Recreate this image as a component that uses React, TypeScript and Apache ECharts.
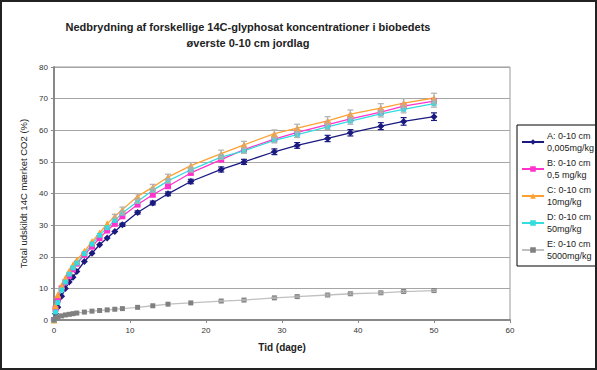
import React, { useEffect, useRef } from "react";
import * as echarts from "echarts";

const days = [0, 0.2, 0.5, 1, 1.5, 2, 2.5, 3, 4, 5, 6, 7, 8, 9, 11, 13, 15, 18, 22, 25, 29, 32, 36, 39, 43, 46, 50];
const seriesA = [0, 2, 4, 7.5, 10, 12, 13.5, 15.3, 18.5, 21.1, 23.8, 25.9, 28.0, 30.1, 34.0, 37.0, 39.9, 43.8, 47.6, 50.0, 53.2, 55.2, 57.4, 59.2, 61.3, 62.8, 64.3];
const seriesB = [0, 3.5, 6.5, 10, 12, 14, 16, 17.8, 20.6, 23.2, 25.9, 28.3, 30.4, 32.8, 36.5, 39.6, 42.3, 46.5, 50.7, 53.9, 57.2, 59.3, 61.8, 63.6, 65.7, 67.6, 69.2];
const seriesC = [0, 4.5, 8, 10.8, 13.3, 15.5, 17.5, 19.0, 21.7, 24.8, 27.5, 30.4, 32.8, 34.9, 39.1, 42.0, 45.2, 48.8, 52.6, 55.4, 58.9, 60.7, 63.0, 65.1, 67.0, 68.6, 70.2];
const seriesD = [0, 2.5, 5.5, 9.5, 12, 14.5, 16.5, 18, 21, 24, 26.8, 29.2, 31.5, 33.8, 37.5, 41, 44, 47.5, 51.5, 53.5, 56.8, 58.6, 61.1, 62.9, 65.2, 66.6, 68.4];
const seriesE = [0, 0.7, 1.0, 1.3, 1.6, 1.8, 2.0, 2.2, 2.5, 2.8, 3.0, 3.2, 3.4, 3.6, 4.0, 4.5, 5.0, 5.4, 6.0, 6.3, 7.0, 7.4, 7.9, 8.3, 8.6, 9.0, 9.3];
const errA = [0, 0, 0, 0, 0, 0, 0, 0, 0, 0, 0, 0, 0, 0.5, 0.5, 0.6, 0.6, 0.7, 0.8, 0.8, 0.9, 0.9, 1.0, 1.0, 1.1, 1.2, 1.2];
const errC = [0, 0, 0, 0, 0, 0, 0, 0, 0, 0, 0, 0, 0.6, 0.8, 0.8, 0.9, 0.9, 1.0, 1.1, 1.1, 1.2, 1.2, 1.3, 1.3, 1.4, 1.4, 1.5];
const errD = [0, 0, 0, 0, 0, 0, 0, 0, 0, 0, 0, 0, 0, 0.5, 0.5, 0.6, 0.6, 0.7, 0.7, 0.8, 0.8, 0.9, 0.9, 1.0, 1.0, 1.1, 1.1];
const errE = [0, 0, 0, 0, 0, 0, 0, 0, 0, 0, 0, 0, 0, 0, 0, 0, 0, 0, 0.2, 0.2, 0.2, 0.2, 0.3, 0.3, 0.3, 0.3, 0.3];

const legendNames = ["A: 0-10 cm\n0,005mg/kg", "B: 0-10 cm\n0,5 mg/kg", "C: 0-10 cm\n10mg/kg", "D: 0-10 cm\n50mg/kg", "E: 0-10 cm\n5000mg/kg"];
const xTicks = [0, 10, 20, 30, 40, 50, 60];
const yTicks = [0, 10, 20, 30, 40, 50, 60, 70, 80];

const FONT = "Liberation Sans, Arial, sans-serif";

function pairs(vals: number[]) {
  return days.map((d, i) => [d, vals[i]]);
}

function errData(vals: number[], errs: number[]) {
  const out: number[][] = [];
  days.forEach((d, i) => {
    if (errs[i] > 0) out.push([d, vals[i] - errs[i], vals[i] + errs[i]]);
  });
  return out;
}

function errSeries(vals: number[], errs: number[], color: string, z: number) {
  return {
    type: "custom",
    silent: true,
    z,
    data: errData(vals, errs),
    renderItem: (params: any, api: any) => {
      const x = api.value(0);
      const lo = api.coord([x, api.value(1)]);
      const hi = api.coord([x, api.value(2)]);
      const w = 3;
      const st = { stroke: color, lineWidth: 1.2 };
      return {
        type: "group",
        children: [
          { type: "line", shape: { x1: lo[0], y1: lo[1], x2: hi[0], y2: hi[1] }, style: st },
          { type: "line", shape: { x1: lo[0] - w, y1: lo[1], x2: lo[0] + w, y2: lo[1] }, style: st },
          { type: "line", shape: { x1: hi[0] - w, y1: hi[1], x2: hi[0] + w, y2: hi[1] }, style: st },
        ],
      };
    },
  };
}

export default function App() {
  const ref = useRef<HTMLDivElement>(null);
  useEffect(() => {
    if (!ref.current) return;
    const chart = echarts.init(ref.current, null, { renderer: "svg" });
    const lineSeries = (name: string, vals: number[], lineColor: string, markColor: string, symbol: string, size: number) => ({
      type: "line",
      name,
      data: pairs(vals),
      symbol,
      symbolSize: size,
      lineStyle: { color: lineColor, width: 1.3 },
      itemStyle: { color: markColor },
      z: 3,
    });
    chart.setOption({
      animation: false,
      backgroundColor: "#ffffff",
      title: {
        text: "Nedbrydning af forskellige 14C-glyphosat koncentrationer i biobedets\nøverste 0-10 cm jordlag",
        left: 243,
        top: 14,
        textAlign: "center",
        textStyle: { fontFamily: FONT, fontSize: 11, fontWeight: "bold", color: "#222", lineHeight: 16 },
      },
      legend: {
        orient: "vertical",
        left: 517,
        top: 125,
        itemWidth: 22,
        itemHeight: 7,
        itemGap: 3,
        padding: [5, 4, 4, 4],
        borderColor: "#000",
        borderWidth: 1,
        data: legendNames,
        textStyle: { fontFamily: FONT, fontSize: 9, color: "#222", lineHeight: 12, padding: [0, 0, 0, -2] },
      },
      grid: {
        left: 54,
        top: 67,
        right: 87,
        bottom: 50,
        show: true,
        borderColor: "#999",
        borderWidth: 1,
      },
      xAxis: {
        type: "value",
        min: 0,
        max: 60,
        interval: 10,
        name: "Tid (dage)",
        nameLocation: "middle",
        nameGap: 22,
        nameTextStyle: { fontFamily: FONT, fontSize: 10, fontWeight: "bold", color: "#222" },
        axisLine: { show: true, lineStyle: { color: "#888", width: 2 } },
        axisTick: { show: true, length: 3, lineStyle: { color: "#888" } },
        axisLabel: { fontFamily: FONT, fontSize: 8, color: "#333", margin: 6, formatter: (v: number) => (xTicks.includes(v) ? String(v) : "") },
        splitLine: { show: false },
      },
      yAxis: {
        type: "value",
        min: 0,
        max: 80,
        interval: 10,
        name: "Total udskildt 14C mærket CO2 (%)",
        nameLocation: "middle",
        nameGap: 19,
        nameTextStyle: { fontFamily: FONT, fontSize: 9.5, color: "#222" },
        axisLine: { show: true, lineStyle: { color: "#888", width: 2 } },
        axisTick: { show: true, length: 3, lineStyle: { color: "#888" } },
        axisLabel: { fontFamily: FONT, fontSize: 8, color: "#333", margin: 6, formatter: (v: number) => (yTicks.includes(v) ? String(v) : "") },
        splitLine: { show: true, lineStyle: { color: "#a6a6a6", width: 1 } },
      },
      series: [
        lineSeries(legendNames[0], seriesA, "#1a1a80", "#1a1a80", "diamond", 7),
        lineSeries(legendNames[1], seriesB, "#ff33cc", "#ff33cc", "rect", 6),
        lineSeries(legendNames[2], seriesC, "#ffa033", "#ffa033", "triangle", 7),
        lineSeries(legendNames[3], seriesD, "#33dddd", "#33dddd", "rect", 5),
        lineSeries(legendNames[4], seriesE, "#c0c0c0", "#808080", "rect", 5),
        errSeries(seriesA, errA, "#1a1a80", 4),
        errSeries(seriesC, errC, "#b0b0b0", 4),
        errSeries(seriesD, errD, "#b0b0b0", 4),
        errSeries(seriesE, errE, "#b0b0b0", 4),
      ],
      graphic: [
        {
          type: "rect",
          shape: { x: 1, y: 1, width: 595, height: 368 },
          style: { fill: "none", stroke: "#222", lineWidth: 2 },
          silent: true,
          z: 100,
        },
      ],
    });
    return () => chart.dispose();
  }, []);
  return (
    <div
      ref={ref}
      style={{ position: "absolute", left: 0, top: 0, width: 597, height: 370 }}
    />
  );
}
